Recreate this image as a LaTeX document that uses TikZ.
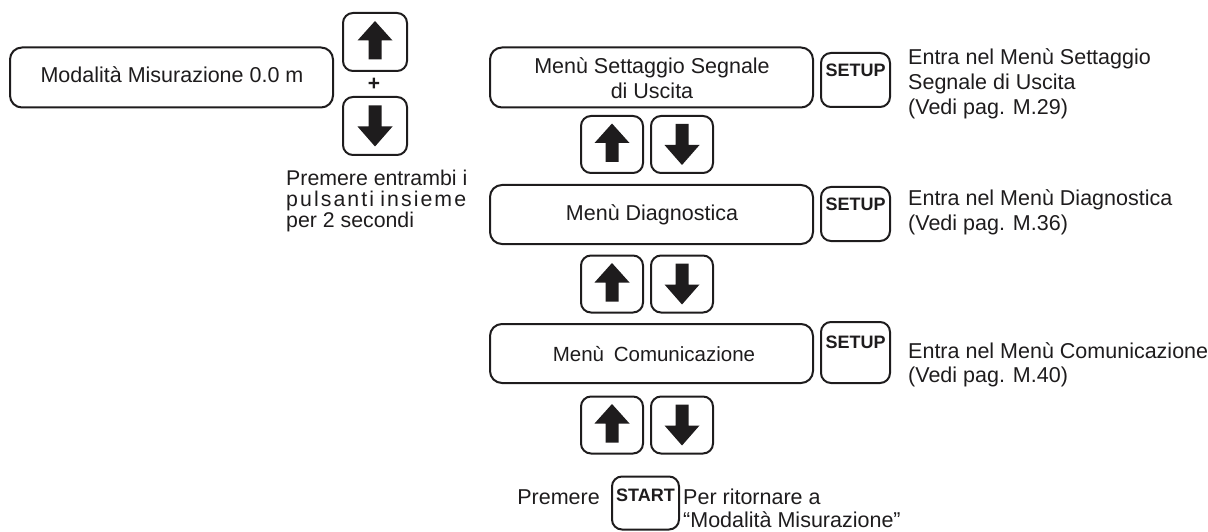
\documentclass[tikz,border=0pt]{standalone}
\usepackage{fontspec}
\setmainfont{Liberation Sans}
\definecolor{ink}{HTML}{1E1C1D}
\begin{document}
\begin{tikzpicture}[x=1pt,y=-1pt,
  ln/.style={line width=2pt, draw=ink},
  txt/.style={inner sep=0pt, text=ink, font=\fontsize{21.5}{25}\selectfont},
  keytxt/.style={inner sep=0pt, text=ink, font=\fontsize{18}{17}\bfseries\selectfont},
  menubox/.style={ln, rounded corners=12pt, minimum width=323pt, minimum height=60pt, inner sep=0pt},
  key/.style={ln, rounded corners=10pt, minimum width=62pt, minimum height=57pt, inner sep=0pt},
  upkey/.style={key, path picture={\fill[ink, sharp corners, shift={(path picture bounding box.center)}]
      (0,-21) -- (17.5,-1.5) -- (6.5,-1.5) -- (6.5,17.5) -- (-6.5,17.5) -- (-6.5,-1.5) -- (-17.5,-1.5) -- cycle;}},
  downkey/.style={key, path picture={\fill[ink, sharp corners, shift={(path picture bounding box.center)}]
      (0,20.5) -- (17.5,0.5) -- (6.5,0.5) -- (6.5,-20.5) -- (-6.5,-20.5) -- (-6.5,0.5) -- (-17.5,0.5) -- cycle;}},
  setupkey/.style={ln, rounded corners=10pt, minimum width=69pt, minimum height=54pt, inner sep=0pt},
]
\useasboundingbox (0,0) rectangle (1208,532);

% left part
\node[menubox] (mm) at (171.5,77.5) {};
\node[txt, anchor=base] at (172,83) {Modalità Misurazione 0.0 m};
\node[upkey, minimum width=64pt, minimum height=58pt] (lu) at (375,42) {};
\node[downkey, minimum width=64pt, minimum height=58pt] (ld) at (375,126) {};
\node[inner sep=0pt, text=ink, font=\fontsize{21}{21}\bfseries\selectfont] (plus) at (374,84) {+};
\node[txt, anchor=base west, font=\fontsize{21.3}{21}\selectfont, align=left] (prem) at (286,227)
  {Premere entrambi i\\\hbox to 180pt{p\hfil u\hfil l\hfil s\hfil a\hfil n\hfil t\hfil i\hfil\hfil\hfil i\hfil n\hfil s\hfil i\hfil e\hfil m\hfil e}\\per 2 secondi};

% menu column
\node[menubox] (m1) at (651.5,77.5) {};
\node[txt, anchor=base, align=center] at (652,99) {Menù Settaggio Segnale\\di Uscita};
\node[upkey] (u1) at (612,144.5) {};
\node[downkey] (d1) at (682,144.5) {};
\node[menubox, minimum height=59pt] (m2) at (651.5,214.5) {};
\node[txt, anchor=base] at (652,220) {Menù Diagnostica};
\node[upkey] (u2) at (612,284) {};
\node[downkey] (d2) at (682,284) {};
\node[menubox, minimum height=59pt] (m3) at (651.5,353.5) {};
\node[txt, anchor=base, font=\fontsize{20.5}{25}\selectfont] at (654,361) {Menù\hspace{4pt} Comunicazione};
\node[upkey] (u3) at (612,425) {};
\node[downkey] (d3) at (682,425) {};

% setup keys
\node[setupkey] (s1) at (855.5,80) {};
\node[keytxt, anchor=base] at ([yshift=-25pt]s1.north) {SETUP};
\node[setupkey] (s2) at (855.5,214) {};
\node[keytxt, anchor=base] at ([yshift=-24pt]s2.north) {SETUP};
\node[setupkey, minimum height=61pt] (s3) at (855.5,352.5) {};
\node[keytxt, anchor=base] at ([yshift=-27pt]s3.north) {SETUP};

\node[txt, anchor=base west, align=left] at (908,115) {Entra nel Menù Settaggio\\Segnale di Uscita\\(Vedi pag. M.29)};
\node[txt, anchor=base west, align=left, font=\fontsize{21.5}{24.5}\selectfont] at (908,230) {Entra nel Menù Diagnostica\\(Vedi pag. M.36)};
\node[txt, anchor=base west, align=left, font=\fontsize{21.5}{23.5}\selectfont] at (908,382) {Entra nel Menù Comunicazione\\(Vedi pag. M.40)};

% start
\node[txt, anchor=base east] at (600,504) {Premere};
\node[setupkey, minimum width=67pt, minimum height=53pt] (st) at (645.5,503) {};
\node[keytxt, anchor=base] at ([yshift=-26pt]st.north) {START};
\node[txt, anchor=base west, align=left, font=\fontsize{21.5}{23}\selectfont] at (683,527) {Per ritornare a\\“Modalità Misurazione”};
\end{tikzpicture}
\end{document}
